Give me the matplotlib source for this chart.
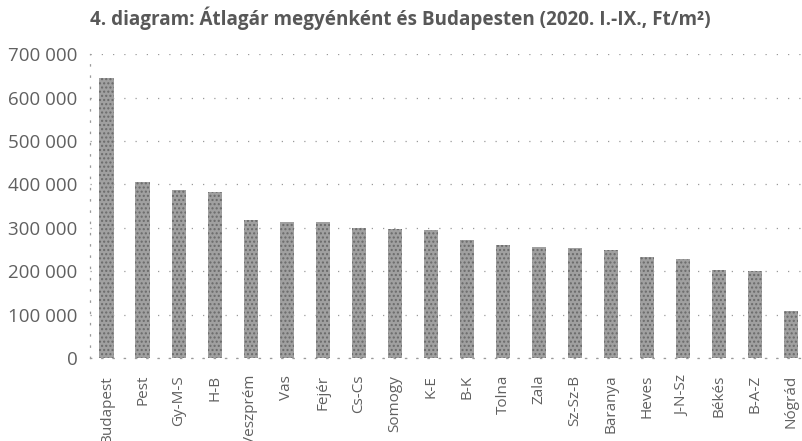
"""
4. diagram: átlagár megyénként és Budapesten, oszlopdiagram újrarajzolása.
"""

import matplotlib
matplotlib.use("Agg")
import matplotlib.pyplot as plt
from matplotlib.ticker import FuncFormatter

# Adatok (a képről leolvasott becslések, Ft/m2)
megyek = ["Budapest", "Pest", "Gy-M-S", "H-B", "Veszprém", "Vas", "Fejér",
          "Cs-Cs", "Somogy", "K-E", "B-K", "Tolna", "Zala", "Sz-Sz-B",
          "Baranya", "Heves", "J-N-Sz", "Békés", "B-A-Z", "Nógrád"]
atlagar = [645000, 405000, 388000, 382000, 318000, 314000, 313000,
           300000, 297000, 294000, 272000, 260000, 256000, 254000,
           250000, 234000, 228000, 203000, 201000, 108000]
y_tickek = [0, 100000, 200000, 300000, 400000, 500000, 600000, 700000]

cim = "4. diagram: Átlagár megyénként és Budapesten (2020. I.-IX., Ft/m²)"

SZOVEG_SZIN = "#606060"
CIM_SZIN = "#585858"
OSZLOP_SZIN = "#a0a0a0"
RACS_SZIN = "#9a9a9a"


def ezres(v, _pos):
    # 700 000 formátum, szóközzel
    return f"{int(v):,}".replace(",", " ")


def rajzol():
    fig = plt.figure(figsize=(8.03, 4.41), dpi=100)
    fig.patch.set_facecolor("white")
    ax = fig.add_axes([0.112, 0.188, 0.888, 0.689])

    x = range(len(megyek))
    ax.bar(x, atlagar, width=0.41, color=OSZLOP_SZIN, edgecolor="#6a6a6a",
           linewidth=0, hatch="....", zorder=3)

    ax.set_xlim(-0.47, 19.33)
    ax.set_ylim(0, 700000)
    ax.set_yticks(y_tickek)
    ax.yaxis.set_major_formatter(FuncFormatter(ezres))
    ax.set_xticks(list(x))
    ax.set_xticklabels(megyek, rotation=90, va="top", ha="center")

    # pontozott rácsvonalak
    ax.grid(axis="y", color=RACS_SZIN, linestyle=(0, (1, 8)), linewidth=0.9, zorder=0)
    for s in ["top", "right"]:
        ax.spines[s].set_visible(False)
    for s in ["left", "bottom"]:
        ax.spines[s].set_color(RACS_SZIN)
        ax.spines[s].set_linestyle((0, (1, 8)))
        ax.spines[s].set_linewidth(0.9)

    ax.tick_params(axis="y", length=0, pad=9, labelsize=13.5, labelcolor=SZOVEG_SZIN)
    ax.tick_params(axis="x", length=0, pad=12, labelsize=11, labelcolor=SZOVEG_SZIN)
    for lbl in ax.get_yticklabels() + ax.get_xticklabels():
        lbl.set_fontfamily("Open Sans")

    fig.text(0.112, 0.958, cim, ha="left", va="center", fontsize=13.6,
             fontweight="bold", color=CIM_SZIN, family="Open Sans")

    fig.savefig("out.png", dpi=100, facecolor=fig.get_facecolor())
    plt.close(fig)


if __name__ == "__main__":
    rajzol()
